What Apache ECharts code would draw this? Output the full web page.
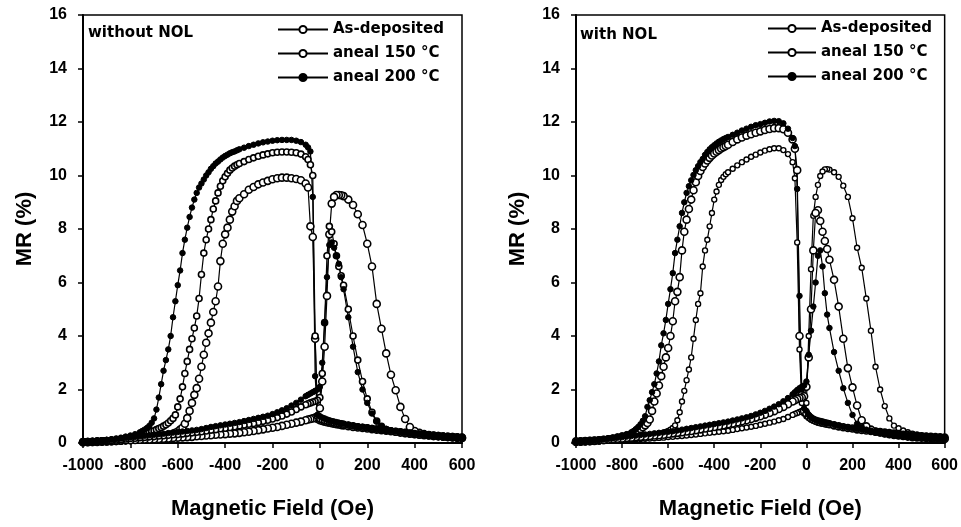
<!DOCTYPE html>
<html><head><meta charset="utf-8">
<script src="https://cdn.jsdelivr.net/npm/echarts@6/dist/echarts.min.js"></script>
<style>html,body{margin:0;padding:0;background:#fff}#c{width:961px;height:527px}</style>
</head><body><div id="c"></div>
<script>
// Field grid for the increasing sweep (-1000 -> 600 Oe)
const incField = [-1000,-980,-960,-940,-920,-900,-880,-860,-840,-820,-800,-780,-760,
-750,-740,-730,-720,-710,-700,-690,-680,-670,-660,-650,-640,-630,-620,-610,-600,-590,-580,-570,-560,-550,-540,-530,-520,-510,-500,-490,-480,-470,-460,-450,-440,-430,-420,-410,-400,-390,-380,-370,-360,-350,
-340,-320,-300,-280,-260,-240,-220,-200,-180,-160,-140,-120,-100,-80,-60,
-50,-40,-30,-20,-10,0,10,20,30,40,50,60,70,80,90,100,
120,140,160,180,200,220,240,260,280,300,320,340,360,380,400,420,440,460,480,500,520,540,560,580,600];
// Field grid for the decreasing sweep (stored ascending, drawn 600 -> -1000 Oe)
const decField = [-1000,-980,-960,-940,-920,-900,-880,-860,-840,-820,-800,-780,-760,-740,-720,-700,-680,-660,-640,-620,-600,-580,-560,-540,-520,-500,-480,-460,-440,-420,-400,-380,-360,-340,-320,-300,-280,-260,-240,-220,-200,-180,-160,-140,-120,-100,-80,-60,
-50,-40,-30,-20,-10,0,10,20,30,40,50,60,70,80,90,100,
120,140,160,180,200,220,240,260,280,300,320,340,360,380,400,420,440,460,480,500,520,540,560,580,600];

// ---- without NOL (left panel), MR (%) ----
const noNOL_asDep_inc = [0.03,0.03,0.04,0.04,0.05,0.06,0.07,0.08,0.09,0.1,0.12,0.14,0.16,
0.17,0.18,0.19,0.2,0.21,0.22,0.23,0.24,0.25,0.26,0.27,0.29,0.31,0.34,0.38,0.43,0.5,0.57,0.72,0.93,1.2,1.5,1.8,2.05,2.4,2.85,3.3,3.75,4.1,4.5,4.9,5.3,5.85,6.8,7.45,7.8,8.05,8.35,8.65,8.85,9.05,
9.15,9.3,9.47,9.57,9.67,9.74,9.8,9.86,9.9,9.92,9.92,9.9,9.87,9.82,9.7,
9.55,8.1,7.7,3.9,0.9,0.85,0.82,0.8,0.78,0.76,0.74,0.72,0.7,0.69,0.67,0.66,
0.63,0.6,0.58,0.56,0.54,0.52,0.5,0.48,0.46,0.44,0.42,0.4,0.38,0.36,0.34,0.32,0.31,0.29,0.27,0.26,0.24,0.23,0.22,0.2,0.19];
const noNOL_asDep_dec = [0.03,0.04,0.04,0.05,0.06,0.06,0.07,0.08,0.09,0.1,0.1,0.11,0.12,0.13,0.13,0.14,0.15,0.16,0.17,0.19,0.2,0.21,0.22,0.23,0.25,0.26,0.28,0.29,0.31,0.32,0.33,0.35,0.36,0.38,0.4,0.42,0.45,0.48,0.51,0.54,0.57,0.6,0.64,0.68,0.72,0.76,0.8,0.85,
0.88,0.9,0.92,0.95,1.0,1.3,2.3,3.6,5.5,7.8,8.95,9.2,9.27,9.27,9.26,9.23,
9.1,8.9,8.55,8.15,7.45,6.6,5.2,4.27,3.35,2.55,1.97,1.35,0.9,0.6,0.45,0.38,0.33,0.3,0.28,0.26,0.24,0.23,0.22,0.21,0.2];
const noNOL_a150_inc = [0.04,0.05,0.05,0.06,0.07,0.08,0.1,0.12,0.14,0.17,0.2,0.24,0.28,
0.3,0.33,0.36,0.4,0.43,0.46,0.5,0.54,0.58,0.63,0.68,0.75,0.83,0.92,1.05,1.35,1.65,2.1,2.6,3.05,3.5,3.9,4.3,4.75,5.4,6.3,7.1,7.6,8.0,8.35,8.75,9.05,9.35,9.6,9.8,9.95,10.08,10.2,10.28,10.35,10.4,
10.45,10.52,10.6,10.66,10.72,10.77,10.81,10.85,10.87,10.88,10.88,10.87,10.85,10.8,10.7,
10.6,10.4,10.0,4.0,1.0,0.9,0.87,0.84,0.82,0.8,0.78,0.76,0.74,0.73,0.71,0.7,
0.67,0.64,0.61,0.59,0.57,0.54,0.52,0.49,0.47,0.45,0.43,0.41,0.39,0.37,0.35,0.33,0.31,0.3,0.28,0.26,0.25,0.23,0.22,0.21,0.2];
const noNOL_a150_dec = [0.05,0.05,0.06,0.07,0.08,0.09,0.1,0.11,0.13,0.15,0.17,0.18,0.2,0.21,0.23,0.24,0.26,0.27,0.29,0.31,0.32,0.34,0.36,0.38,0.4,0.42,0.45,0.48,0.5,0.53,0.55,0.58,0.61,0.64,0.67,0.7,0.73,0.77,0.81,0.85,0.9,0.95,1.01,1.08,1.16,1.25,1.35,1.43,
1.47,1.5,1.53,1.56,1.6,1.7,2.6,4.5,7.0,8.1,7.9,7.45,7.0,6.6,6.25,5.9,
5.0,4.0,3.1,2.3,1.65,1.15,0.82,0.62,0.5,0.44,0.4,0.37,0.35,0.33,0.31,0.29,0.27,0.26,0.24,0.23,0.22,0.21,0.2,0.19,0.18];
const noNOL_a200_inc = [0.05,0.06,0.07,0.08,0.1,0.12,0.14,0.17,0.2,0.24,0.28,0.33,0.4,
0.45,0.5,0.56,0.64,0.76,0.92,1.25,1.7,2.2,2.7,3.1,3.5,4.0,4.7,5.3,5.9,6.45,7.1,7.6,8.05,8.45,8.8,9.1,9.35,9.55,9.7,9.85,10.0,10.12,10.25,10.35,10.45,10.52,10.6,10.67,10.73,10.78,10.83,10.87,10.9,10.94,
10.98,11.04,11.1,11.15,11.2,11.24,11.27,11.3,11.32,11.33,11.33,11.33,11.3,11.25,11.15,
11.05,10.9,9.2,2.5,1.05,1.0,0.95,0.92,0.88,0.85,0.82,0.8,0.78,0.76,0.74,0.72,
0.68,0.65,0.62,0.6,0.58,0.55,0.52,0.5,0.48,0.46,0.44,0.42,0.4,0.38,0.36,0.34,0.32,0.3,0.28,0.27,0.25,0.24,0.22,0.21,0.2];
const noNOL_a200_dec = [0.05,0.06,0.07,0.09,0.1,0.11,0.13,0.15,0.17,0.19,0.21,0.23,0.25,0.27,0.29,0.31,0.33,0.35,0.37,0.39,0.41,0.43,0.45,0.47,0.49,0.52,0.56,0.6,0.63,0.66,0.69,0.72,0.75,0.78,0.82,0.86,0.9,0.94,0.98,1.02,1.08,1.15,1.22,1.3,1.4,1.5,1.62,1.75,
1.8,1.85,1.9,1.95,2.0,2.1,3.0,4.5,6.2,7.4,7.5,7.3,7.0,6.7,6.2,5.75,
4.7,3.6,2.65,2.0,1.5,1.1,0.8,0.62,0.53,0.47,0.43,0.4,0.37,0.35,0.33,0.31,0.29,0.27,0.25,0.23,0.22,0.21,0.2,0.19,0.18];

// ---- with NOL (right panel), MR (%) ----
const NOL_asDep_inc = [0.03,0.03,0.04,0.04,0.05,0.06,0.07,0.08,0.09,0.1,0.12,0.14,0.16,
0.17,0.18,0.19,0.2,0.21,0.22,0.23,0.24,0.25,0.27,0.29,0.31,0.34,0.37,0.41,0.45,0.5,0.56,0.66,0.85,1.15,1.55,1.95,2.35,2.75,3.2,3.9,4.6,5.2,5.6,6.6,7.2,7.6,8.1,8.6,9.1,9.4,9.65,9.83,9.95,10.05,
10.12,10.25,10.38,10.5,10.6,10.7,10.78,10.86,10.93,10.98,11.02,11.02,10.95,10.8,10.5,
9.9,7.5,3.5,1.5,1.1,1.0,0.93,0.88,0.84,0.8,0.78,0.75,0.73,0.71,0.7,0.68,
0.65,0.61,0.58,0.55,0.53,0.5,0.48,0.46,0.44,0.42,0.4,0.38,0.36,0.34,0.32,0.31,0.29,0.28,0.26,0.25,0.24,0.22,0.21,0.2,0.19];
const NOL_asDep_dec = [0.04,0.04,0.05,0.05,0.06,0.07,0.08,0.09,0.1,0.1,0.11,0.12,0.13,0.14,0.15,0.16,0.17,0.18,0.19,0.2,0.22,0.23,0.25,0.26,0.28,0.3,0.32,0.34,0.36,0.38,0.4,0.42,0.44,0.46,0.49,0.52,0.55,0.58,0.61,0.64,0.68,0.72,0.76,0.8,0.85,0.9,0.97,1.05,
1.09,1.12,1.16,1.2,1.25,1.5,4.0,6.5,8.5,9.2,9.65,9.98,10.15,10.23,10.24,10.22,
10.12,9.95,9.62,9.2,8.4,7.3,6.55,5.4,4.2,2.85,2.0,1.38,0.92,0.65,0.55,0.47,0.4,0.35,0.31,0.28,0.26,0.24,0.22,0.21,0.2];
const NOL_a150_inc = [0.04,0.05,0.06,0.07,0.08,0.1,0.12,0.14,0.17,0.2,0.24,0.28,0.33,
0.37,0.41,0.46,0.52,0.59,0.66,0.75,0.88,1.2,1.55,1.85,2.15,2.5,2.85,3.2,3.55,4.0,4.55,5.3,5.65,6.2,7.2,7.9,8.35,8.75,9.1,9.45,9.75,9.98,10.17,10.32,10.45,10.56,10.66,10.75,10.82,10.89,10.95,11.01,11.06,11.1,
11.15,11.25,11.35,11.42,11.49,11.54,11.6,11.65,11.7,11.74,11.77,11.77,11.73,11.6,11.35,
11.0,10.2,4.0,1.8,1.2,1.1,1.0,0.92,0.87,0.83,0.8,0.78,0.76,0.74,0.72,0.7,
0.66,0.62,0.59,0.56,0.54,0.51,0.49,0.47,0.45,0.43,0.41,0.39,0.37,0.35,0.33,0.31,0.3,0.28,0.27,0.25,0.24,0.23,0.22,0.21,0.2];
const NOL_a150_dec = [0.06,0.06,0.07,0.08,0.09,0.1,0.11,0.13,0.15,0.16,0.17,0.19,0.2,0.22,0.23,0.24,0.26,0.28,0.29,0.31,0.33,0.36,0.38,0.4,0.43,0.45,0.48,0.51,0.54,0.57,0.6,0.63,0.66,0.7,0.73,0.77,0.81,0.85,0.9,0.95,1.0,1.06,1.12,1.19,1.27,1.35,1.45,1.55,
1.6,1.65,1.68,1.7,1.75,2.1,3.2,5.0,7.2,8.6,8.7,8.3,7.9,7.55,7.25,6.85,
6.1,5.1,3.9,2.8,2.08,1.4,0.85,0.62,0.5,0.42,0.39,0.36,0.33,0.3,0.28,0.26,0.24,0.22,0.21,0.2,0.19,0.18,0.17,0.16,0.15];
const NOL_a200_inc = [0.05,0.06,0.07,0.08,0.1,0.12,0.14,0.17,0.2,0.24,0.28,0.33,0.4,
0.45,0.52,0.6,0.7,0.83,1.0,1.35,1.6,1.9,2.2,2.6,3.05,3.65,4.1,4.6,5.2,5.75,6.35,7.1,7.6,8.1,8.6,9.0,9.35,9.6,9.82,10.02,10.2,10.35,10.5,10.62,10.77,10.88,10.98,11.06,11.13,11.2,11.26,11.31,11.36,11.4,
11.44,11.52,11.6,11.68,11.75,11.82,11.88,11.92,11.97,12.02,12.04,12.03,11.95,11.75,11.4,
11.1,9.5,5.5,2.0,1.3,1.2,1.05,0.95,0.9,0.86,0.83,0.8,0.78,0.76,0.74,0.72,
0.68,0.64,0.6,0.57,0.55,0.52,0.5,0.48,0.46,0.44,0.42,0.4,0.38,0.36,0.34,0.32,0.3,0.29,0.27,0.26,0.25,0.24,0.23,0.22,0.21];
const NOL_a200_dec = [0.05,0.06,0.07,0.09,0.1,0.12,0.14,0.16,0.18,0.2,0.22,0.24,0.26,0.28,0.3,0.32,0.34,0.36,0.38,0.4,0.42,0.44,0.47,0.5,0.53,0.56,0.59,0.62,0.65,0.68,0.71,0.74,0.77,0.8,0.84,0.88,0.92,0.96,1.01,1.07,1.13,1.2,1.28,1.36,1.45,1.56,1.68,1.82,
1.9,1.98,2.05,2.1,2.15,2.3,3.3,4.2,5.1,6.0,7.0,7.2,6.6,5.6,4.8,4.3,
3.4,2.7,2.05,1.5,1.05,0.72,0.6,0.5,0.44,0.4,0.36,0.33,0.3,0.28,0.26,0.24,0.22,0.21,0.2,0.19,0.18,0.17,0.16,0.15,0.14];

const seriesNames = ['As-deposited','aneal 150 °C','aneal 200 °C'];
const panelLabels = ['without NOL','with NOL'];
const xTitle = 'Magnetic Field (Oe)';
const yTitle = 'MR (%)';

function loop(inc, dec) {
  const pts = [];
  for (let i = 0; i < incField.length; i++) pts.push([incField[i], inc[i]]);
  for (let i = decField.length - 1; i >= 0; i--) pts.push([decField[i], dec[i]]);
  return pts;
}
function mk(name, idx, inc, dec, size, fill, bw) {
  return {
    type: 'line', name: name, xAxisIndex: idx, yAxisIndex: idx,
    data: loop(inc, dec), symbol: 'circle', symbolSize: size,
    itemStyle: { color: fill, borderColor: '#000', borderWidth: bw },
    lineStyle: { color: '#000', width: 1.2 },
    emphasis: { disabled: true }, animation: false
  };
}
const tickFont = { fontFamily: 'Liberation Sans', fontWeight: 'bold', fontSize: 16, color: '#000' };
const titleFont = { fontFamily: 'Liberation Sans', fontWeight: 'bold', fontSize: 22, color: '#000' };
function xAx(i) {
  return { gridIndex: i, type: 'value', min: -1000, max: 600, interval: 200,
    name: xTitle, nameLocation: 'middle', nameGap: 55, nameTextStyle: titleFont,
    axisLine: { onZero: false, lineStyle: { color: '#000', width: 2 } },
    axisTick: { length: 5, lineStyle: { color: '#000', width: 1.5 } },
    axisLabel: Object.assign({ margin: 15, formatter: v => String(v) }, tickFont), splitLine: { show: false } };
}
function yAx(i) {
  return { gridIndex: i, type: 'value', min: 0, max: 16, interval: 2,
    name: yTitle, nameLocation: 'middle', nameGap: 47, nameTextStyle: titleFont,
    axisLine: { onZero: false, lineStyle: { color: '#000', width: 2 } },
    axisTick: { length: 5, lineStyle: { color: '#000', width: 1.5 } },
    axisLabel: Object.assign({ margin: 16, formatter: v => String(v) }, tickFont), splitLine: { show: false } };
}
const legFont = { fontFamily: 'DejaVu Sans', fontWeight: 'bold', fontSize: 15, color: '#000' };
const rn = seriesNames.map(n => n + ' ');
const option = {
  backgroundColor: '#fff',
  animation: false,
  title: [
    { text: panelLabels[0], left: 88, top: 26, padding: 0, textStyle: { fontFamily: 'DejaVu Sans', fontWeight: 'bold', fontSize: 15, color: '#000' } },
    { text: panelLabels[1], left: 580, top: 28, padding: 0, textStyle: { fontFamily: 'DejaVu Sans', fontWeight: 'bold', fontSize: 15, color: '#000' } }
  ],
  grid: [
    { left: 83, top: 15, width: 379, height: 428, show: true, borderColor: '#000', borderWidth: 1.5, backgroundColor: 'transparent' },
    { left: 576, top: 15, width: 372, height: 428, show: true, borderColor: '#000', borderWidth: 1.5, backgroundColor: 'transparent' }
  ],
  legend: [
    { data: seriesNames, orient: 'vertical', left: 277, top: 22, itemWidth: 50, itemHeight: 9, itemGap: 9, padding: 0,
      textStyle: legFont, selectedMode: false },
    { data: rn, orient: 'vertical', left: 767, top: 21, itemWidth: 48, itemHeight: 9, itemGap: 9, padding: 0,
      textStyle: legFont, selectedMode: false, formatter: n => n.trim() }
  ],
  xAxis: [xAx(0), xAx(1)],
  yAxis: [yAx(0), yAx(1)],
  series: [
    mk(seriesNames[0], 0, noNOL_asDep_inc, noNOL_asDep_dec, 7, '#fff', 1.6),
    mk(seriesNames[1], 0, noNOL_a150_inc, noNOL_a150_dec, 6, '#fff', 1.6),
    mk(seriesNames[2], 0, noNOL_a200_inc, noNOL_a200_dec, 5.5, '#000', 1),
    mk(rn[0], 1, NOL_asDep_inc, NOL_asDep_dec, 5, '#fff', 1.4),
    mk(rn[1], 1, NOL_a150_inc, NOL_a150_dec, 7, '#fff', 1.6),
    mk(rn[2], 1, NOL_a200_inc, NOL_a200_dec, 5.5, '#000', 1)
  ]
};
const chart = echarts.init(document.getElementById('c'), null, { renderer: 'canvas' });
chart.setOption(option);
</script>
</body></html>
